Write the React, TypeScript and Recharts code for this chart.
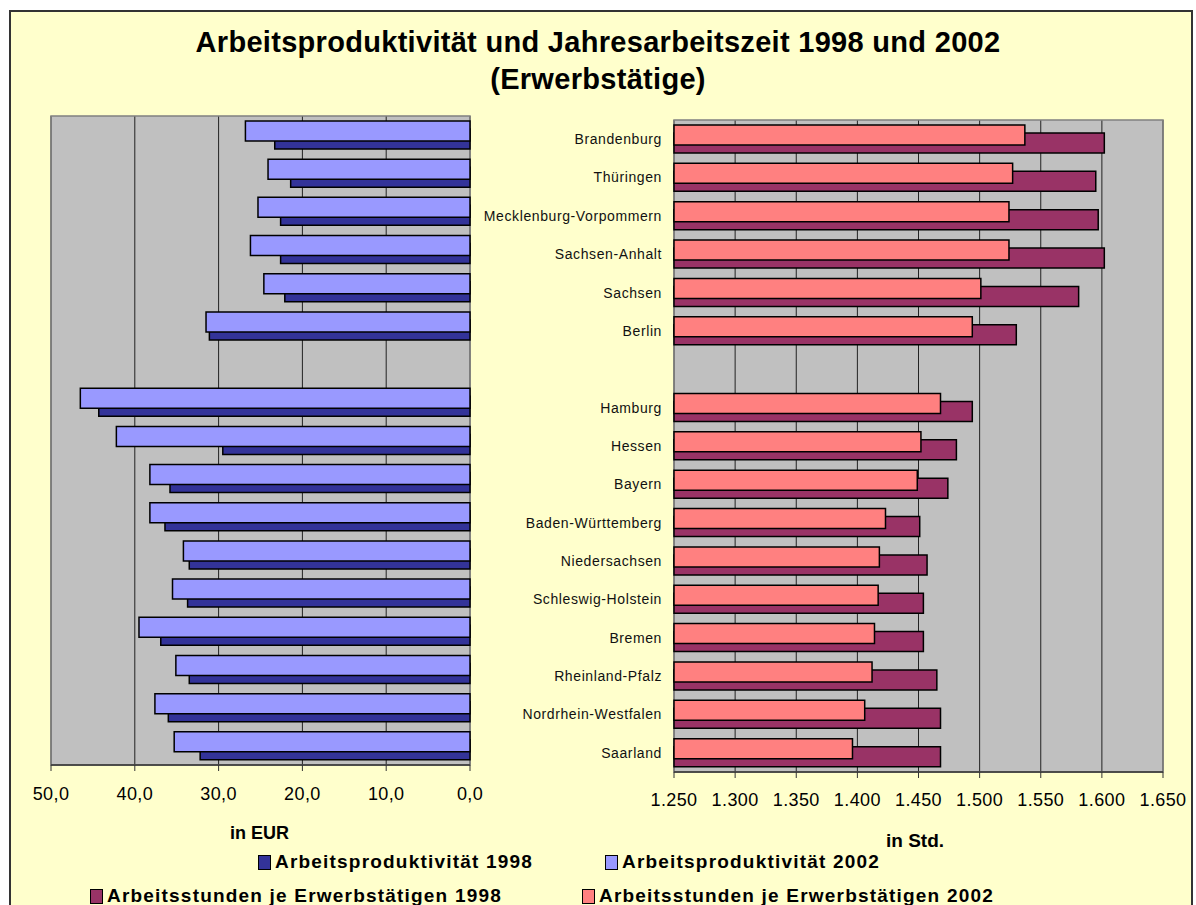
import { BarChart, Bar, XAxis, YAxis, CartesianGrid, ReferenceArea } from 'recharts';

// Länder, east block first, an empty slot, then the west block (top to bottom)
const states = [
  'Brandenburg',
  'Thüringen',
  'Mecklenburg-Vorpommern',
  'Sachsen-Anhalt',
  'Sachsen',
  'Berlin',
  '',
  'Hamburg',
  'Hessen',
  'Bayern',
  'Baden-Württemberg',
  'Niedersachsen',
  'Schleswig-Holstein',
  'Bremen',
  'Rheinland-Pfalz',
  'Nordrhein-Westfalen',
  'Saarland',
];

// Arbeitsproduktivität in EUR je Stunde
const productivity1998 = [23.3, 21.4, 22.6, 22.6, 22.1, 31.1, null, 44.3, 29.5, 35.8, 36.4, 33.5, 33.7, 36.9, 33.5, 36.0, 32.2];
const productivity2002 = [26.8, 24.1, 25.3, 26.2, 24.6, 31.5, null, 46.5, 42.2, 38.2, 38.2, 34.2, 35.5, 39.5, 35.1, 37.6, 35.3];

// Arbeitsstunden je Erwerbstätigen
const hours1998 = [1602, 1595, 1597, 1602, 1581, 1530, null, 1494, 1481, 1474, 1451, 1457, 1454, 1454, 1465, 1468, 1468];
const hours2002 = [1537, 1527, 1524, 1524, 1501, 1494, null, 1468, 1452, 1449, 1423, 1418, 1417, 1414, 1412, 1406, 1396];

const eurTicks = [0, 10, 20, 30, 40, 50];
const hourTicks = [1250, 1300, 1350, 1400, 1450, 1500, 1550, 1600, 1650];

const COLORS = {
  p98: '#333399',
  p02: '#9999FF',
  h98: '#993366',
  h02: '#FF8080',
};

const FONT = '"Liberation Sans", Arial, sans-serif';

const data = states.map((state, i) => ({
  state,
  p98: productivity1998[i],
  p02: productivity2002[i],
  h98: hours1998[i],
  h02: hours2002[i],
}));

const fmtEur = (v: number) => v.toFixed(1).replace('.', ',');
const fmtHours = (v: number) => `${Math.floor(v / 1000)}.${String(v % 1000).padStart(3, '0')}`;

const tickStyle = { fontSize: 18, fill: '#000', fontFamily: FONT, letterSpacing: 0.4 };

function LegendItem({ color, label, left, top }: { color: string; label: string; left: number; top: number }) {
  return (
    <div
      style={{
        position: 'absolute',
        left,
        top,
        display: 'flex',
        alignItems: 'center',
        fontFamily: FONT,
        fontWeight: 'bold',
        fontSize: 19,
        letterSpacing: 1.2,
        whiteSpace: 'nowrap',
      }}
    >
      <span
        style={{
          display: 'inline-block',
          width: 11,
          height: 13,
          background: color,
          border: '1.5px solid #000',
          marginRight: 4,
        }}
      />
      {label}
    </div>
  );
}

export default function App() {
  return (
    <div style={{ position: 'absolute', left: 0, top: 0, width: 1196, height: 905, overflow: 'hidden', background: '#fff' }}>
      <div
        style={{
          position: 'absolute',
          left: 9,
          top: 10,
          width: 1184,
          height: 920,
          background: '#FFFFCC',
          border: '2px solid #333',
          boxSizing: 'border-box',
        }}
      />
      <div
        style={{
          position: 'absolute',
          left: 0,
          width: 1196,
          top: 24,
          textAlign: 'center',
          fontFamily: FONT,
          fontWeight: 'bold',
          fontSize: 29,
          lineHeight: '37px',
          letterSpacing: 0.3,
          color: '#000',
        }}
      >
        Arbeitsproduktivität und Jahresarbeitszeit 1998 und 2002
        <br />
        (Erwerbstätige)
      </div>

      {/* left panel: productivity, axis runs right to left */}
      <div style={{ position: 'absolute', left: 0, top: 0 }}>
        <BarChart
          width={500}
          height={820}
          data={data}
          layout="vertical"
          margin={{ top: 116, right: 30, bottom: 25, left: 51 }}
          barSize={20}
          barGap={-28}
        >
          <CartesianGrid horizontal={false} stroke="#222" fill="#C0C0C0" fillOpacity={1} />
          <ReferenceArea x1={0} x2={50} fill="none" stroke="#808080" strokeWidth={1.5} />
          <XAxis
            type="number"
            domain={[0, 50]}
            ticks={eurTicks}
            reversed
            height={30}
            tickSize={6}
            tickMargin={16}
            tickFormatter={fmtEur}
            tick={tickStyle}
            axisLine={{ stroke: '#333', strokeWidth: 1.5 }}
            tickLine={{ stroke: '#333' }}
          />
          <YAxis type="category" dataKey="state" hide width={0} />
          <Bar dataKey="p98" fill={COLORS.p98} stroke="#000" strokeWidth={1.5} isAnimationActive={false} />
          <Bar dataKey="p02" fill={COLORS.p02} stroke="#000" strokeWidth={1.5} isAnimationActive={false} />
        </BarChart>
      </div>

      {/* right panel: annual working hours */}
      <div style={{ position: 'absolute', left: 440, top: 0 }}>
        <BarChart
          width={756}
          height={820}
          data={data}
          layout="vertical"
          margin={{ top: 120, right: 33, bottom: 18, left: 4 }}
          barSize={20}
          barGap={-28}
        >
          <CartesianGrid horizontal={false} stroke="#222" fill="#C0C0C0" fillOpacity={1} />
          <ReferenceArea x1={1250} x2={1650} fill="none" stroke="#808080" strokeWidth={1.5} />
          <XAxis
            type="number"
            domain={[1250, 1650]}
            ticks={hourTicks}
            height={30}
            tickSize={6}
            tickMargin={15}
            tickFormatter={fmtHours}
            tick={tickStyle}
            axisLine={{ stroke: '#333', strokeWidth: 1.5 }}
            tickLine={{ stroke: '#333' }}
          />
          <YAxis
            type="category"
            dataKey="state"
            width={230}
            tickSize={0}
            tickMargin={12}
            axisLine={false}
            tickLine={false}
            interval={0}
            tick={{ fontSize: 14, fill: '#111', fontFamily: FONT, letterSpacing: 0.6 }}
          />
          <Bar dataKey="h98" fill={COLORS.h98} stroke="#000" strokeWidth={1.5} isAnimationActive={false} />
          <Bar dataKey="h02" fill={COLORS.h02} stroke="#000" strokeWidth={1.5} isAnimationActive={false} />
        </BarChart>
      </div>

      <div style={{ position: 'absolute', left: 230, top: 823, fontFamily: FONT, fontWeight: 'bold', fontSize: 18 }}>in EUR</div>
      <div style={{ position: 'absolute', left: 886, top: 830, fontFamily: FONT, fontWeight: 'bold', fontSize: 19 }}>in Std.</div>

      <LegendItem color={COLORS.p98} label="Arbeitsproduktivität 1998" left={258} top={851} />
      <LegendItem color={COLORS.p02} label="Arbeitsproduktivität 2002" left={605} top={851} />
      <LegendItem color={COLORS.h98} label="Arbeitsstunden je Erwerbstätigen 1998" left={90} top={885} />
      <LegendItem color={COLORS.h02} label="Arbeitsstunden je Erwerbstätigen 2002" left={582} top={885} />
    </div>
  );
}
